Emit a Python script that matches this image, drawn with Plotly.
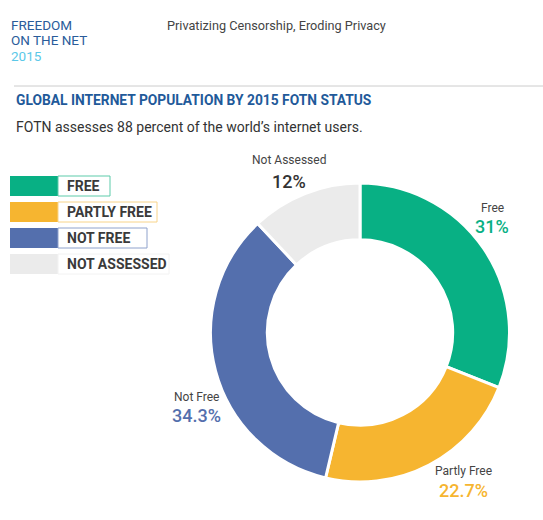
import plotly.graph_objects as go

W, H = 543, 520

categories = ["Free", "Partly Free", "Not Free", "Not Assessed"]
values = [31, 22.7, 34.3, 12]
value_labels = ["31%", "22.7%", "34.3%", "12%"]
legend_labels = ["FREE", "PARTLY FREE", "NOT FREE", "NOT ASSESSED"]
colors = ["#08B084", "#F6B530", "#546FAD", "#EBEBEB"]
pct_colors = ["#08B084", "#F6B530", "#546FAD", "#333333"]
legend_borders = ["#5CCBAA", "#F8D48A", "#8FA2CC", "#F2F2F2"]


def px(x):
    return x / W


def py(y):
    return 1 - y / H


fig = go.Figure()

fig.add_trace(go.Pie(
    labels=categories,
    values=values,
    sort=False,
    direction="clockwise",
    rotation=0,
    hole=0.62,
    marker=dict(colors=colors, line=dict(color="white", width=3)),
    textinfo="none",
    hoverinfo="label+percent",
    showlegend=False,
    domain=dict(x=[px(210), px(510)], y=[py(482), py(183)]),
))

FONT = "Roboto"
annotations = []
shapes = []

# header
annotations += [
    dict(x=px(9), y=py(25), text="FREEDOM", font=dict(family=FONT, size=13.5, color="#2A5C9A")),
    dict(x=px(9), y=py(40.5), text="ON THE NET", font=dict(family=FONT, size=13.5, color="#2A5C9A")),
    dict(x=px(9), y=py(56), text="2015", font=dict(family=FONT, size=13.5, color="#5BC8E8")),
]
for a in annotations:
    a.update(xref="paper", yref="paper", xanchor="left", yanchor="middle", showarrow=False)

annotations.append(dict(x=px(276), y=py(25), text="Privatizing Censorship, Eroding Privacy",
                        xref="paper", yref="paper", xanchor="center", yanchor="middle", showarrow=False,
                        font=dict(family=FONT, size=12.7, color="#444444")))
shapes.append(dict(type="line", xref="paper", yref="paper", x0=px(14), x1=1, y0=py(86), y1=py(86),
                   line=dict(color="#CCCCCC", width=1)))
annotations.append(dict(x=px(14), y=py(100), text="<b>GLOBAL INTERNET POPULATION BY 2015 FOTN STATUS</b>",
                        xref="paper", yref="paper", xanchor="left", yanchor="middle", showarrow=False,
                        font=dict(family=FONT, size=13.8, color="#1F5A9A")))
annotations.append(dict(x=px(14), y=py(127), text="FOTN assesses 88 percent of the world’s internet users.",
                        xref="paper", yref="paper", xanchor="left", yanchor="middle", showarrow=False,
                        font=dict(family=FONT, size=14, color="#333333")))

# custom legend
row_tops = [176, 202, 228, 254]
box_rights = [110, 157, 147, 169]
for i, lab in enumerate(legend_labels):
    t = row_tops[i]
    shapes.append(dict(type="rect", xref="paper", yref="paper", x0=px(10), x1=px(58), y0=py(t + 20), y1=py(t),
                       fillcolor=colors[i], line=dict(width=0)))
    shapes.append(dict(type="rect", xref="paper", yref="paper", x0=px(58), x1=px(box_rights[i]), y0=py(t + 20), y1=py(t),
                       fillcolor="white", line=dict(color=legend_borders[i], width=1)))
    annotations.append(dict(x=px(65), y=py(t + 10), text="<b>" + lab + "</b>", xref="paper", yref="paper",
                            xanchor="left", yanchor="middle", showarrow=False,
                            font=dict(family=FONT, size=14, color="#3A3A3A")))

# slice labels
label_pos = [(492, 208, 226), (463, 471, 490), (196, 397, 415), (289, 160, 181)]
for i, (x, y1, y2) in enumerate(label_pos):
    annotations.append(dict(x=px(x), y=py(y1), text=categories[i], xref="paper", yref="paper",
                            xanchor="center", yanchor="middle", showarrow=False,
                            font=dict(family=FONT, size=12, color="#444444")))
    annotations.append(dict(x=px(x), y=py(y2), text=value_labels[i], xref="paper", yref="paper",
                            xanchor="center", yanchor="middle", showarrow=False,
                            font=dict(family=FONT, size=18, color=pct_colors[i], weight=500)))

fig.update_layout(
    width=W, height=H,
    margin=dict(l=0, r=0, t=0, b=0),
    paper_bgcolor="white",
    plot_bgcolor="white",
    annotations=annotations,
    shapes=shapes,
)

fig.write_html("out.html", config={"displayModeBar": False},
               post_script="document.body.style.margin='0';document.body.style.overflow='hidden';")
